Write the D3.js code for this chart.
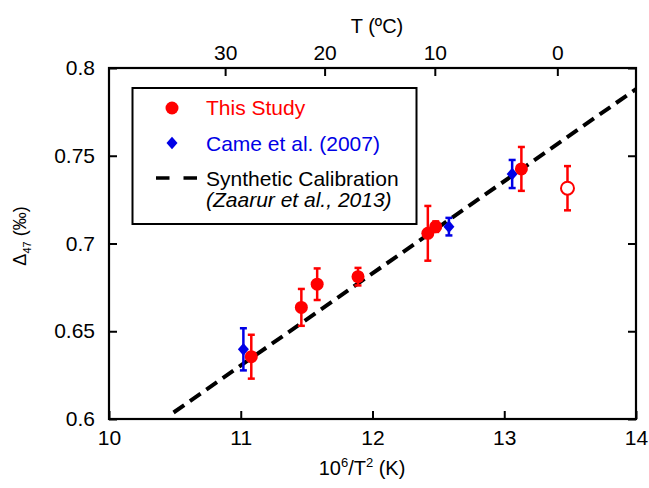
<!DOCTYPE html>
<html>
<head>
<meta charset="utf-8">
<script src="https://cdn.jsdelivr.net/npm/d3@7"></script>
<style>
  body { margin: 0; background: #fff; }
  svg text { font-family: "Liberation Sans", Arial, Helvetica, sans-serif; }
</style>
</head>
<body>
<div id="chart"></div>
<script>
// This Study (filled), 10^6/T^2 vs D47 with 1 sigma
const studyX   = [11.08, 11.46, 11.58, 11.89, 12.42, 12.48, 13.13];
const studyY   = [0.6355, 0.6636, 0.6768, 0.6811, 0.7058, 0.7096, 0.7425];
const studyErr = [0.0125, 0.0105, 0.009, 0.005, 0.0156, 0.003, 0.0125];

// This Study, open symbol
const openX   = [13.48];
const openY   = [0.7315];
const openErr = [0.0126];

// Came et al. (2007)
const cameX   = [11.02, 12.58, 13.06];
const cameY   = [0.6397, 0.7096, 0.7396];
const cameErr = [0.012, 0.005, 0.008];

// synthetic calibration line (Zaarur et al., 2013), end points
const fitX = [10.49, 14];
const fitY = [0.6037, 0.788];

const xTicks = [10, 11, 12, 13, 14];
const yTicks = [0.6, 0.65, 0.7, 0.75, 0.8];
const tTicks = [30, 20, 10, 0];

const legendLabels = ['This Study', 'Came et al. (2007)', 'Synthetic Calibration', '(Zaarur et al., 2013)'];

const option =
  {
    width: 649,
    height: 488,
    plot: { left: 109, right: 636, top: 68, bottom: 419 },
    red: '#ff0000',
    blue: '#0000e6',
    font: 21
  };

const svg = d3.select('#chart').append('svg')
  .attr('width', option.width)
  .attr('height', option.height)
;

const x = d3.scaleLinear().domain([10, 14]).range([option.plot.left, option.plot.right]);
const y = d3.scaleLinear().domain([0.6, 0.8]).range([option.plot.bottom, option.plot.top]);

const toInv = t => 1e6 / Math.pow(t + 273.15, 2);

// axes
const axisB = svg.append('g')
  .attr('transform', `translate(0 ${ option.plot.bottom })`)
  .call(d3.axisBottom(x).tickValues(xTicks).tickSizeInner(-8).tickSizeOuter(0).tickPadding(11).tickFormat(d3.format('d')))
;

const axisL = svg.append('g')
  .attr('transform', `translate(${ option.plot.left } 0)`)
  .call(d3.axisLeft(y).tickValues(yTicks).tickSizeInner(-8).tickSizeOuter(0).tickPadding(14).tickFormat(d => String(+d.toFixed(2))))
;

const axisR = svg.append('g')
  .attr('transform', `translate(${ option.plot.right } 0)`)
  .call(d3.axisRight(y).tickValues(yTicks).tickSizeInner(-8).tickSizeOuter(0).tickFormat(''))
;

const axisT = svg.append('g')
  .attr('transform', `translate(0 ${ option.plot.top })`)
  .call(d3.axisTop(x).tickValues(tTicks.map(toInv)).tickSizeInner(-8).tickSizeOuter(0).tickPadding(8).tickFormat((d, i) => tTicks[i]))
;

[axisB, axisL, axisR, axisT].forEach(g =>
{
  g.select('.domain').remove();
  g.selectAll('line').attr('stroke', '#000').attr('stroke-width', 2);
  g.selectAll('text').attr('font-size', option.font).attr('fill', '#000').style('font-family', '"Liberation Sans", Arial, sans-serif');
});

svg.append('rect')
  .attr('x', option.plot.left)
  .attr('y', option.plot.top)
  .attr('width', option.plot.right - option.plot.left)
  .attr('height', option.plot.bottom - option.plot.top)
  .attr('fill', 'none')
  .attr('stroke', '#000')
  .attr('stroke-width', 2.2)
;

// axis titles
svg.append('text')
  .attr('x', 377)
  .attr('y', 33)
  .attr('text-anchor', 'middle')
  .attr('font-size', 20)
  .text('T (ºC)')
;

const xt = svg.append('text')
  .attr('x', 362)
  .attr('y', 475)
  .attr('text-anchor', 'middle')
  .attr('font-size', 20)
;
xt.append('tspan').text('10');
xt.append('tspan').attr('font-size', 13).attr('dy', -8).text('6');
xt.append('tspan').attr('dy', 8).text('/T');
xt.append('tspan').attr('font-size', 13).attr('dy', -8).text('2');
xt.append('tspan').attr('dy', 8).text(' (K)');

const yt = svg.append('text')
  .attr('transform', 'translate(26 236) rotate(-90)')
  .attr('text-anchor', 'middle')
  .attr('font-size', 18)
;
yt.append('tspan').text('Δ');
yt.append('tspan').attr('font-size', 11).attr('dy', 5).text('47');
yt.append('tspan').attr('dy', -5).text(' (‰)');

// plot content
const defs = svg.append('defs');
defs.append('clipPath').attr('id', 'clip')
  .append('rect')
  .attr('x', option.plot.left)
  .attr('y', option.plot.top)
  .attr('width', option.plot.right - option.plot.left)
  .attr('height', option.plot.bottom - option.plot.top)
;

const plot = svg.append('g').attr('clip-path', 'url(#clip)');

plot.append('path')
  .datum(d3.zip(fitX, fitY))
  .attr('d', d3.line().x(d => x(d[0])).y(d => y(d[1])))
  .attr('fill', 'none')
  .attr('stroke', '#000')
  .attr('stroke-width', 4)
  .attr('stroke-dasharray', '13,7')
;

const errorbars = (g, xs, ys, es, color) =>
{
  const data = d3.zip(xs, ys, es);
  const e = g.append('g').attr('stroke', color).attr('stroke-width', 2.5).selectAll('g').data(data).join('g');

  e.append('line')
    .attr('x1', d => x(d[0])).attr('x2', d => x(d[0]))
    .attr('y1', d => y(d[1] + d[2])).attr('y2', d => y(d[1] - d[2]))
  ;
  e.append('line')
    .attr('x1', d => x(d[0]) - 3.5).attr('x2', d => x(d[0]) + 3.5)
    .attr('y1', d => y(d[1] + d[2])).attr('y2', d => y(d[1] + d[2]))
  ;
  e.append('line')
    .attr('x1', d => x(d[0]) - 3.5).attr('x2', d => x(d[0]) + 3.5)
    .attr('y1', d => y(d[1] - d[2])).attr('y2', d => y(d[1] - d[2]))
  ;
};

const diamond = (cx, cy, r) => `M${ cx },${ cy - r * 1.15 }L${ cx + r },${ cy }L${ cx },${ cy + r * 1.15 }L${ cx - r },${ cy }Z`;

// Came et al.
errorbars(plot, cameX, cameY, cameErr, option.blue);
plot.append('g').selectAll('path')
  .data(d3.zip(cameX, cameY))
  .join('path')
  .attr('d', d => diamond(x(d[0]), y(d[1]), 5.5))
  .attr('fill', option.blue)
;

// This Study
errorbars(plot, openX, openY, openErr, option.red);
plot.append('g').selectAll('circle')
  .data(d3.zip(openX, openY))
  .join('circle')
  .attr('cx', d => x(d[0]))
  .attr('cy', d => y(d[1]))
  .attr('r', 6.5)
  .attr('fill', '#fff')
  .attr('stroke', option.red)
  .attr('stroke-width', 2)
;

errorbars(plot, studyX, studyY, studyErr, option.red);
plot.append('g').selectAll('circle')
  .data(d3.zip(studyX, studyY))
  .join('circle')
  .attr('cx', d => x(d[0]))
  .attr('cy', d => y(d[1]))
  .attr('r', 6.5)
  .attr('fill', option.red)
;

// legend
const legend = svg.append('g');

legend.append('rect')
  .attr('x', 132.5)
  .attr('y', 88)
  .attr('width', 284)
  .attr('height', 136)
  .attr('fill', '#fff')
  .attr('stroke', '#000')
  .attr('stroke-width', 2)
;

legend.append('circle')
  .attr('cx', 172)
  .attr('cy', 108)
  .attr('r', 6.5)
  .attr('fill', option.red)
;

legend.append('path')
  .attr('d', diamond(172, 143, 5.5))
  .attr('fill', option.blue)
;

legend.append('line')
  .attr('x1', 156).attr('x2', 197.5)
  .attr('y1', 178).attr('y2', 178)
  .attr('stroke', '#000')
  .attr('stroke-width', 3.5)
  .attr('stroke-dasharray', '13.5,14')
;

const legendText = [
  { t: legendLabels[0], y: 115, fill: option.red, style: 'normal' },
  { t: legendLabels[1], y: 150.5, fill: option.blue, style: 'normal' },
  { t: legendLabels[2], y: 185.5, fill: '#000', style: 'normal' },
  { t: legendLabels[3], y: 207, fill: '#000', style: 'italic' }
];

legend.selectAll('text.item')
  .data(legendText)
  .join('text')
  .attr('class', 'item')
  .attr('x', 206)
  .attr('y', d => d.y)
  .attr('font-size', option.font)
  .attr('font-style', d => d.style)
  .attr('fill', d => d.fill)
  .text(d => d.t)
;
</script>
</body>
</html>
